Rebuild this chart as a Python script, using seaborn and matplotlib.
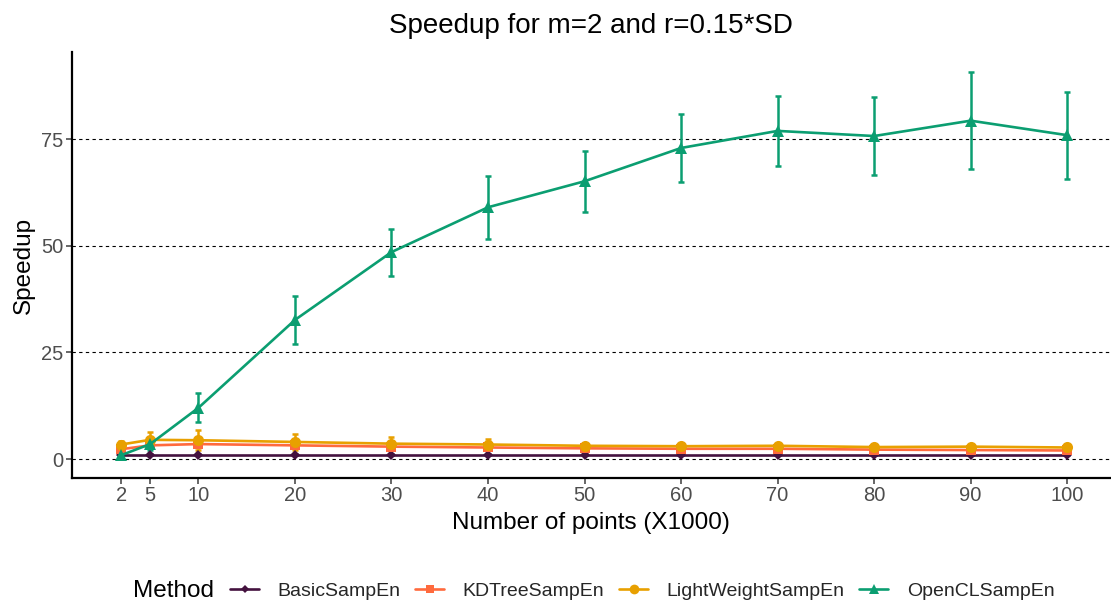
import matplotlib
matplotlib.use("Agg")
import matplotlib.pyplot as plt
import seaborn as sns
import pandas as pd
import numpy as np

points = [2, 5, 10, 20, 30, 40, 50, 60, 70, 80, 90, 100]
methods = ["BasicSampEn", "KDTreeSampEn", "LightWeightSampEn", "OpenCLSampEn"]
basic = [1.0, 1.0, 1.0, 1.0, 1.0, 1.0, 1.0, 1.0, 1.0, 1.0, 1.0, 1.0]
kdtree = [2.3, 3.2, 3.5, 3.2, 2.9, 2.7, 2.5, 2.4, 2.4, 2.2, 2.1, 2.0]
light = [3.4, 4.5, 4.4, 4.0, 3.6, 3.4, 3.1, 3.0, 3.1, 2.8, 2.9, 2.7]
opencl = [0.9, 3.5, 12.0, 32.6, 48.5, 59.0, 65.1, 72.9, 76.9, 75.7, 79.3, 75.9]
basic_sd = [0.1, 0.1, 0.1, 0.1, 0.1, 0.1, 0.1, 0.1, 0.1, 0.1, 0.1, 0.1]
kdtree_sd = [0.5, 0.6, 0.6, 0.5, 0.4, 0.4, 0.3, 0.3, 0.3, 0.3, 0.3, 0.3]
light_sd = [0.8, 1.8, 2.4, 1.9, 1.5, 1.3, 0.7, 0.5, 0.5, 0.5, 0.5, 0.5]
opencl_sd = [0.3, 1.5, 3.4, 5.6, 5.5, 7.4, 7.2, 7.9, 8.2, 9.1, 11.4, 10.2]

colors = ["#44123F", "#FF6A3D", "#E8A000", "#0B9E71"]
markers = ["D", "s", "o", "^"]
msizes = [5, 7, 8, 8]

vals = [basic, kdtree, light, opencl]
sds = [basic_sd, kdtree_sd, light_sd, opencl_sd]
df = pd.DataFrame({
    "Points": points * 4,
    "Speedup": sum(vals, []),
    "SD": sum(sds, []),
    "Method": sum([[m] * len(points) for m in methods], []),
})

sns.set_theme(style="white")
plt.rcParams["font.family"] = ["Liberation Sans", "DejaVu Sans"]

fig = plt.figure(figsize=(11.11, 6.03), dpi=100)
ax = fig.add_axes([0.0648, 0.2073, 0.934, 0.7065])

for y in [0, 25, 50, 75]:
    ax.axhline(y, color="black", lw=0.8, ls=(0, (3, 3)), zorder=0)

for m, c in zip(methods, colors):
    sub = df[df["Method"] == m]
    ax.errorbar(sub["Points"], sub["Speedup"], yerr=sub["SD"], fmt="none",
                ecolor=c, elinewidth=1.8, capsize=2.5, capthick=1.8, zorder=2)

sns.lineplot(data=df, x="Points", y="Speedup", hue="Method", style="Method",
             palette=dict(zip(methods, colors)),
             markers=dict(zip(methods, markers)), dashes=False,
             lw=1.9, markersize=7, markeredgewidth=0, ax=ax, legend=False, zorder=3)
for line, ms in zip(ax.lines[-4:], msizes):
    line.set_markersize(ms)

ax.set_xlim(-3.1, 104.4)
ax.set_ylim(-4.45, 95.4)
ax.set_xticks(points)
ax.set_yticks([0, 25, 50, 75])
ax.tick_params(axis="both", colors="#4D4D4D", labelsize=14.5, length=4, width=1.2,
               direction="out", bottom=True, left=True, pad=2)
for s in ["top", "right"]:
    ax.spines[s].set_visible(False)
for s in ["left", "bottom"]:
    ax.spines[s].set_color("black")
    ax.spines[s].set_linewidth(1.6)
ax.set_xlabel("Number of points (X1000)", fontsize=17.5, color="black", labelpad=5)
ax.set_ylabel("Speedup", fontsize=17.5, color="black", labelpad=5)
ax.set_title("Speedup for m=2 and r=0.15*SD", fontsize=20, color="black", pad=14)

handles = [plt.Line2D([], [], color=c, marker=mk, markersize=ms - 1, lw=1.9, markeredgewidth=0)
           for c, mk, ms in zip(colors, markers, msizes)]
fig.text(0.12, 0.02, "Method", fontsize=17.5, color="black", va="center")
fig.legend(handles, methods, loc="center left", bbox_to_anchor=(0.207, 0.02), ncol=4,
           frameon=False, fontsize=14, handlelength=1.5, columnspacing=0.75,
           handletextpad=0.95, borderpad=0, borderaxespad=0)

fig.savefig("out.png", dpi=100)
